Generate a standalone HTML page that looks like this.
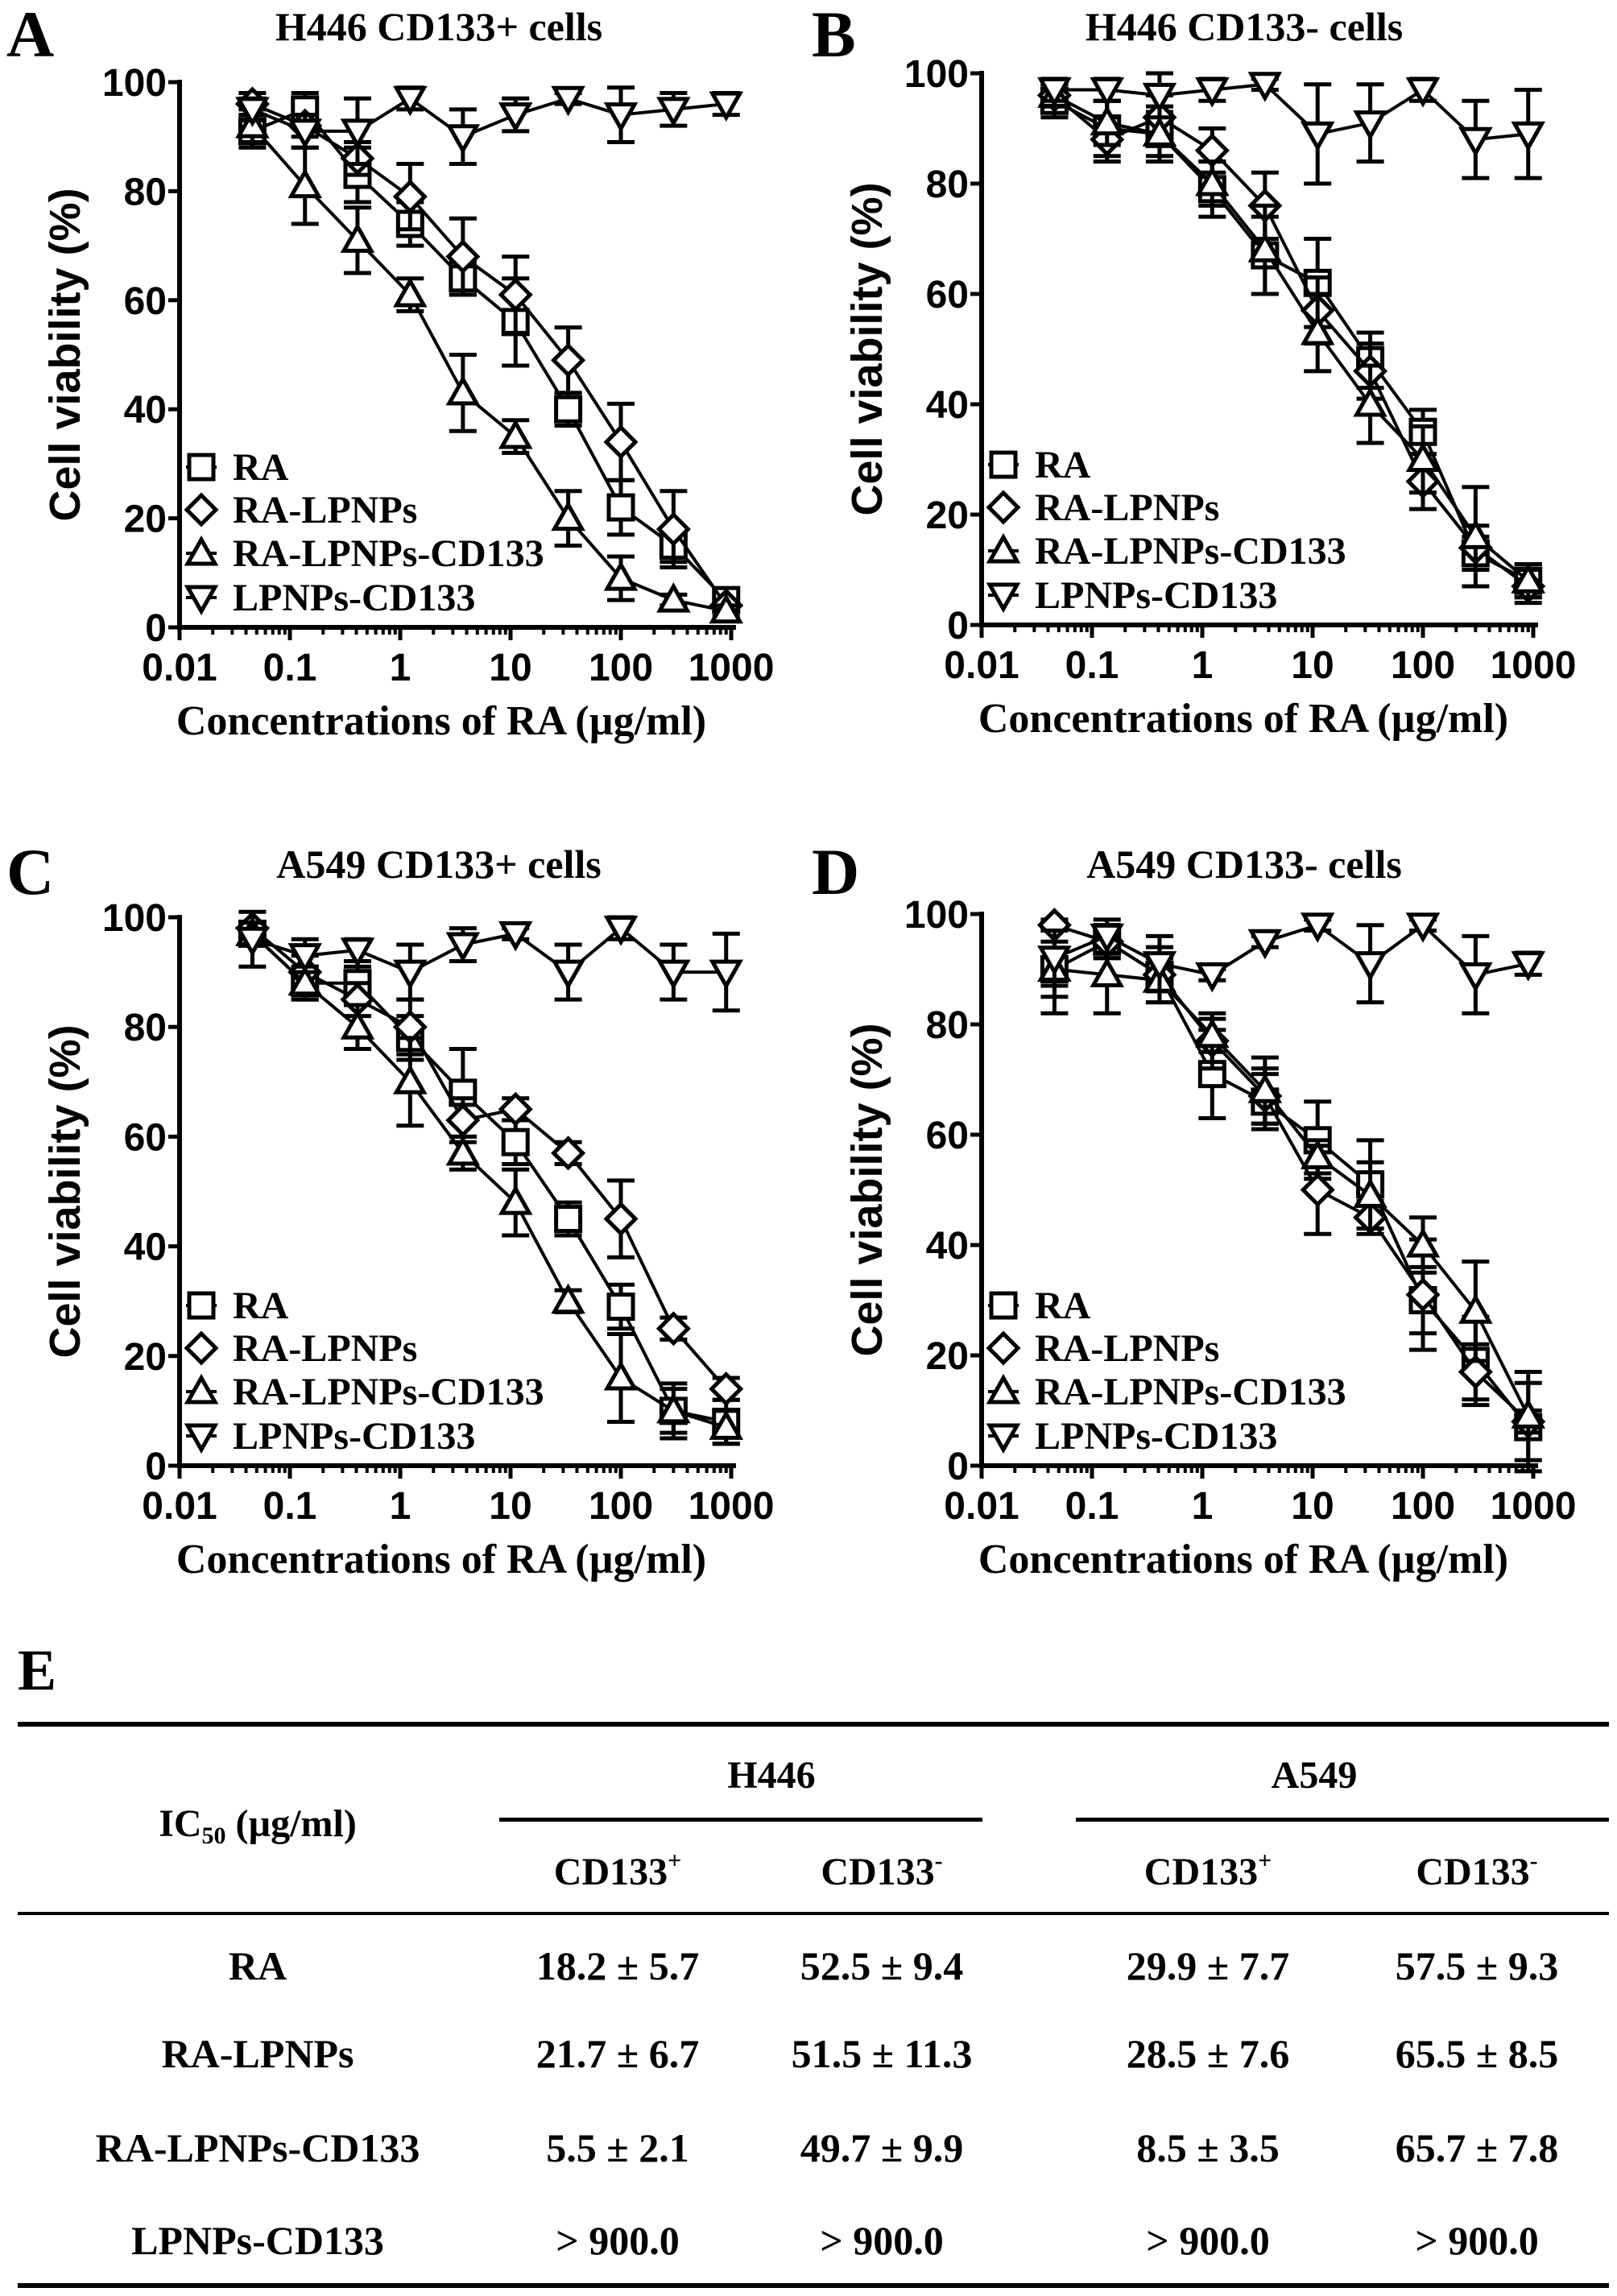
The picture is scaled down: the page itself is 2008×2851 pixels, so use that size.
<!DOCTYPE html>
<html><head><meta charset="utf-8">
<style>
html,body{margin:0;padding:0;background:#fff;}
svg{display:block;}
.tk{font-family:"Liberation Sans",sans-serif;font-weight:bold;font-size:48px;fill:#000;}
.tt{font-family:"Liberation Serif",serif;font-weight:bold;fill:#000;}
.yt{font-family:"Liberation Sans",sans-serif;font-weight:bold;font-size:54px;fill:#000;}
</style></head>
<body>
<svg id="fig" width="2008" height="2851" viewBox="0 0 2008 2851" xmlns="http://www.w3.org/2000/svg">
<g id="charts"></g>
<g id="table">
  <text class="tt" x="22" y="2098" font-size="72">E</text>
  <rect x="22" y="2138" width="1976" height="6" fill="#000"/>
  <text class="tt" x="958" y="2220" font-size="48" text-anchor="middle">H446</text>
  <text class="tt" x="1632" y="2220" font-size="48" text-anchor="middle">A549</text>
  <rect x="620" y="2257" width="600" height="5" fill="#000"/>
  <rect x="1336" y="2257" width="662" height="5" fill="#000"/>
  <text class="tt" x="320" y="2280" font-size="48" text-anchor="middle">IC<tspan font-size="30" dy="9">50</tspan><tspan dy="-9"> (µg/ml)</tspan></text>
  <text class="tt" x="767" y="2340" font-size="48" text-anchor="middle">CD133<tspan font-size="30" dy="-20">+</tspan></text>
  <text class="tt" x="1095" y="2340" font-size="48" text-anchor="middle">CD133<tspan font-size="30" dy="-20">-</tspan></text>
  <text class="tt" x="1500" y="2340" font-size="48" text-anchor="middle">CD133<tspan font-size="30" dy="-20">+</tspan></text>
  <text class="tt" x="1834" y="2340" font-size="48" text-anchor="middle">CD133<tspan font-size="30" dy="-20">-</tspan></text>
  <rect x="22" y="2374" width="1976" height="4" fill="#000"/>
  <g id="rows"></g>
  <rect x="22" y="2835" width="1976" height="6" fill="#000"/>
</g>
</svg>
<script>
const concentrations = [0.0457, 0.137, 0.41, 1.23, 3.7, 11.1, 33.3, 100, 300, 900];
const seriesNames = ["RA", "RA-LPNPs", "RA-LPNPs-CD133", "LPNPs-CD133"];
const xTickLabels = ["0.01","0.1","1","10","100","1000"];
const yTickLabels = [0,20,40,60,80,100];

const aRA = [91,95,83,74,64,56,40,22,15,5];
const aRAerr = [3,3,5,4,3,8,3,5,3,1];
const aLP = [96,92,86,79,68,61,49,34,18,4];
const aLPerr = [2,2,3,6,7,7,6,7,7,1];
const aCD = [92,81,71,61,43,35,20,9,5,3];
const aCDerr = [3,7,6,3,7,3,5,4,1,1];
const aNP = [95,91,91,97,90,94,97,94,95,96];
const aNPerr = [2,3,6,2,5,3,1,5,3,2];

const bRA = [95,90,89,79,67,62,48,35,13,8];
const bRAerr = [3,5,4,5,7,8,5,4,3,3];
const bLP = [96,88,92,86,76,57,46,26,14,7];
const bLPerr = [2,4,4,4,6,6,5,5,4,3];
const bCD = [96,91,89,80,68,53,40,30,16,8];
const bCDerr = [2,4,5,4,8,7,7,6,9,3];
const bNP = [97,97,96,97,98,89,91,97,88,89];
const bNPerr = [2,2,4,2,1,9,7,2,7,8];

const cRA = [97,88,88,78,68,59,45,29,10,8];
const cRAerr = [2,3,3,4,8,4,3,4,5,4];
const cLP = [98,90,85,80,63,65,57,45,25,14];
const cLPerr = [1,3,3,5,4,2,2,7,2,2];
const cCD = [97,88,80,70,57,48,30,16,10,7];
const cCDerr = [2,3,4,8,3,6,2,8,4,3];
const cNP = [96,93,94,90,95,97,90,98,90,90];
const cNPerr = [5,3,2,5,3,1,5,2,5,7];

const dRA = [90,95,89,71,66,59,51,30,19,7];
const dRAerr = [8,3,5,8,5,7,8,6,8,8];
const dLP = [98,95,89,77,67,50,45,31,17,8];
const dLPerr = [1,3,3,5,5,8,3,10,5,2];
const dCD = [90,89,88,78,68,56,49,40,28,9];
const dCDerr = [5,7,4,3,6,3,6,5,9,8];
const dNP = [92,96,91,89,95,98,91,98,89,91];
const dNPerr = [5,3,5,1,1,1,7,1,7,2];

const panelTitles = ["H446 CD133+  cells","H446 CD133-  cells","A549 CD133+ cells","A549 CD133- cells"];
const panelLetters = ["A","B","C","D"];

const tableRowLabels = ["RA","RA-LPNPs","RA-LPNPs-CD133","LPNPs-CD133"];
const tableH446pos = ["18.2 ± 5.7","21.7 ± 6.7","5.5 ± 2.1","> 900.0"];
const tableH446neg = ["52.5 ± 9.4","51.5 ± 11.3","49.7 ± 9.9","> 900.0"];
const tableA549pos = ["29.9 ± 7.7","28.5 ± 7.6","8.5 ± 3.5","> 900.0"];
const tableA549neg = ["57.5 ± 9.3","65.5 ± 8.5","65.7 ± 7.8","> 900.0"];

const NS = "http://www.w3.org/2000/svg";
function mk(tag, attrs, parent){
  const e = document.createElementNS(NS, tag);
  for (const k in attrs) e.setAttribute(k, attrs[k]);
  parent.appendChild(e);
  return e;
}
const panels = [
  {ax:223, y0:779, y100:102, data:[[aRA,aRAerr],[aLP,aLPerr],[aCD,aCDerr],[aNP,aNPerr]], lx:0, ly:0},
  {ax:1219, y0:776, y100:91, data:[[bRA,bRAerr],[bLP,bLPerr],[bCD,bCDerr],[bNP,bNPerr]], lx:1000, ly:0},
  {ax:223, y0:1820, y100:1139, data:[[cRA,cRAerr],[cLP,cLPerr],[cCD,cCDerr],[cNP,cNPerr]], lx:0, ly:1040},
  {ax:1219, y0:1820, y100:1135, data:[[dRA,dRAerr],[dLP,dLPerr],[dCD,dCDerr],[dNP,dNPerr]], lx:1000, ly:1040}
];
const DEC = 137;
function marker(g, kind, x, y){
  const s = 15;
  let m;
  if (kind === 0) m = mk('rect',{x:x-s,y:y-s,width:2*s,height:2*s},g);
  else if (kind === 1) m = mk('polygon',{points:`${x},${y-s-3} ${x+s+3},${y} ${x},${y+s+3} ${x-s-3},${y}`},g);
  else if (kind === 2) m = mk('polygon',{points:`${x},${y-s-2} ${x+s+2},${y+s-2} ${x-s-2},${y+s-2}`},g);
  else m = mk('polygon',{points:`${x},${y+s+2} ${x+s+2},${y-s+2} ${x-s-2},${y-s+2}`},g);
  m.setAttribute('fill','#fff');
  m.setAttribute('stroke','#000');
  m.setAttribute('stroke-width','5');
  return m;
}
const root = document.getElementById('charts');
panels.forEach((p, pi) => {
  const g = mk('g',{},root);
  
  
  const xs = v => p.ax + (Math.log10(v) + 2) * DEC;
  const ys = v => p.y0 - v * (p.y0 - p.y100) / 100;
  const xEnd = xs(1000) + 6;
  const L = mk('text',{x:p.lx+8, y:p.ly+70, class:'tt','font-size':82},g);
  L.textContent = panelLetters[pi];
  
  
  const T = mk('text',{x:p.lx+545, y:p.ly+50, class:'tt','font-size':50,'text-anchor':'middle'},g);
  T.textContent = panelTitles[pi];
  
  
  const ya = mk('line',{x1:p.ax,y1:p.y100-3,x2:p.ax,y2:p.y0+3,stroke:'#000','stroke-width':6},g);
  
  
  const xa = mk('line',{x1:p.ax-3,y1:p.y0,x2:xEnd,y2:p.y0,stroke:'#000','stroke-width':6},g);
  
  
  yTickLabels.forEach(v => {
    const y = ys(v);
    mk('line',{x1:p.ax-14,y1:y,x2:p.ax,y2:y,stroke:'#000','stroke-width':5},g);
    const t = mk('text',{x:p.ax-16,y:y+17,class:'tk','text-anchor':'end'},g);
    t.textContent = v;
    
    
  });
  xTickLabels.forEach((lab, i) => {
    const x = xs(parseFloat(lab));
    mk('line',{x1:x,y1:p.y0,x2:x,y2:p.y0+16,stroke:'#000','stroke-width':5},g);
    const t = mk('text',{x:x,y:p.y0+66,class:'tk','text-anchor':'middle'},g);
    t.textContent = lab;
    
    
    if (i < xTickLabels.length - 1) {
      for (let k = 2; k <= 9; k++) {
        const xm = xs(parseFloat(lab) * k);
        mk('line',{x1:xm,y1:p.y0,x2:xm,y2:p.y0+9,stroke:'#000','stroke-width':4},g);
      }
    }
  });
  const xt = mk('text',{x:p.ax+325,y:p.y0+133,class:'tt','font-size':52,'text-anchor':'middle'},g);
  xt.textContent = 'Concentrations of RA (µg/ml)';
  
  
  const cy = (p.y0 + p.y100) / 2;
  const yt = mk('text',{x:0,y:0,class:'yt','text-anchor':'middle',transform:`translate(${p.ax-124},${cy}) rotate(-90)`},g);
  yt.textContent = 'Cell viability (%)';
  
  
  p.data.forEach((sd, si) => {
    const sg = mk('g',{},g);
    
    
    const vals = sd[0], errs = sd[1];
    const pts = concentrations.map((c,i) => `${xs(c)},${ys(vals[i])}`).join(' ');
    mk('polyline',{points:pts,fill:'none',stroke:'#000','stroke-width':4},sg);
    concentrations.forEach((c,i) => {
      const x = xs(c), yt1 = ys(vals[i]+errs[i]), yb = ys(vals[i]-errs[i]);
      const eb = mk('path',{d:`M${x},${yt1}V${yb}M${x-17},${yt1}H${x+17}M${x-17},${yb}H${x+17}`,stroke:'#000','stroke-width':5,fill:'none'},sg);
      
      
    });
    concentrations.forEach((c,i) => {
      const m = marker(sg, si, xs(c), ys(vals[i]));
      
      
    });
  });
  const lg = mk('g',{},g);
  
  
  const offs = [-199,-146,-92,-37];
  seriesNames.forEach((n, si) => {
    const y = p.y0 + offs[si];
    const eg = mk('g',{},lg);
    
    
    mk('line',{x1:p.ax+8,y1:y,x2:p.ax+46,y2:y,stroke:'#000','stroke-width':4},eg);
    marker(eg, si, p.ax+27, y);
    const t = mk('text',{x:p.ax+66,y:y+16,class:'tt','font-size':48},eg);
    t.textContent = n;
  });
});
const rowsG = document.getElementById('rows');
const rowYs = [2458, 2567, 2684, 2799];
tableRowLabels.forEach((lab, i) => {
  const rg = mk('g',{},rowsG);
  
  
  const cells = [[320,lab],[767,tableH446pos[i]],[1095,tableH446neg[i]],[1500,tableA549pos[i]],[1834,tableA549neg[i]]];
  cells.forEach(c => {
    const t = mk('text',{x:c[0],y:rowYs[i],class:'tt','font-size':50,'text-anchor':'middle'},rg);
    t.textContent = c[1];
  });
});
</script>
</body></html>
